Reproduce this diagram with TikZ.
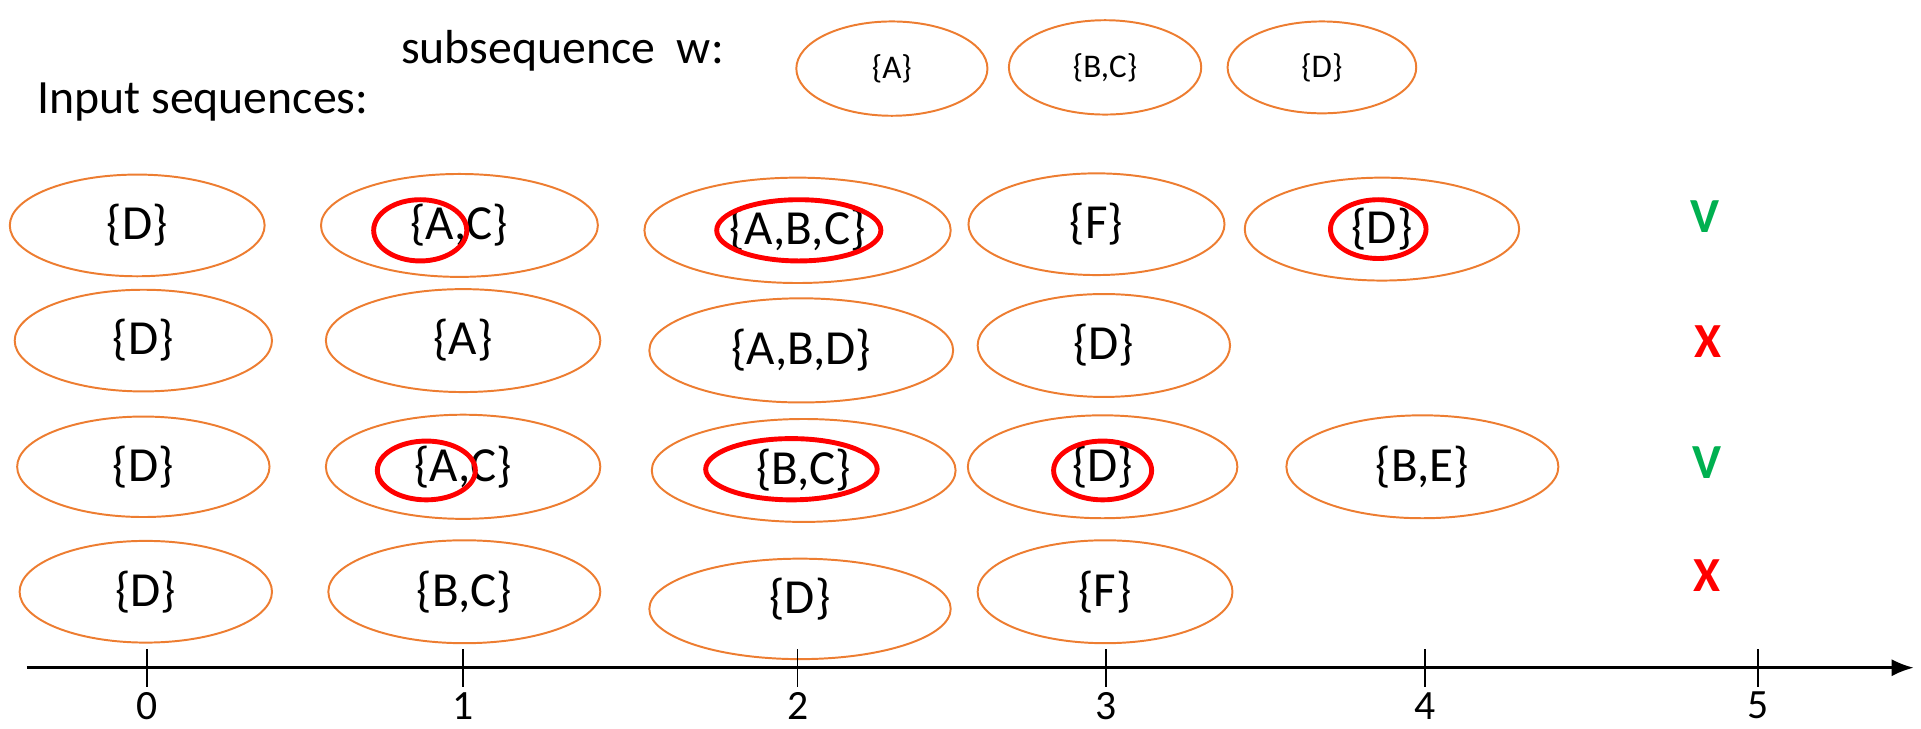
\documentclass[tikz,border=0pt]{standalone}
\usepackage{fontspec}
\setmainfont{Carlito}
\usetikzlibrary{shapes.geometric,arrows.meta}
\definecolor{seqorange}{HTML}{ED7D31}
\definecolor{ringred}{HTML}{FF0000}
\definecolor{okgreen}{HTML}{00B050}
\begin{document}
\begin{tikzpicture}[x=0.5pt,y=-0.5pt,
  seq/.style={ellipse, draw=seqorange, line width=0.8pt, inner sep=0pt, font=\fontsize{20}{24}\selectfont},
  sub/.style={seq, font=\fontsize{13.5}{16}\selectfont},
  esz/.style 2 args={minimum width=#1*0.5pt, minimum height=#2*0.5pt},
  ring/.style={ellipse, draw=ringred, line width=2pt, inner sep=0pt},
  lbl/.style={font=\fontsize{19.5}{23}\selectfont, inner sep=0pt, anchor=base west},
  txt/.style={font=\fontsize{20}{24}\selectfont, inner sep=0pt},
  num/.style={font=\fontsize{17}{20}\selectfont, inner sep=0pt},
  ok/.style={font=\fontsize{20}{24}\selectfont\bfseries, text=okgreen, inner sep=0pt},
  bad/.style={font=\fontsize{20}{24}\selectfont\bfseries, text=ringred, inner sep=0pt},
  tick/.style={line width=0.7pt}
]
\useasboundingbox (0,0) rectangle (1568,595);

% titles
\node[lbl] (subtitle) at (327,52) {subsequence\ \ w:};
\node[lbl] (intitle) at (30,93) {Input sequences:};

% subsequence w
\node[sub, esz={156}{77}] (w1) at (728,56) {\{A\}};
\node[sub, esz={157}{77}] (w2) at (902,55) {\{B,C\}};
\node[sub, esz={154}{75}] (w3) at (1079,55) {\{D\}};

% row 1
\node[seq, esz={208}{83}] (a0) at (112,184) {\{D\}};
\node[seq, esz={226}{84}] (a1) at (375,184) {\{A,C\}};
\node[seq, esz={250}{86}] (a2) at (651,188) {\{A,B,C\}};
\node[seq, esz={209}{83}] (a3) at (895,183) {\{F\}};
\node[seq, esz={224}{84}] (a4) at (1128,187) {\{D\}};
\node[ok] (ra) at (1392,177) {V};

% row 2
\node[seq, esz={210}{83}] (b0) at (117,278) {\{D\}};
\node[seq, esz={224}{84}] (b1) at (378,278) {\{A\}};
\node[seq, esz={248}{85}] (b2) at (654,286) {\{A,B,D\}};
\node[seq, esz={206}{84}] (b3) at (901,282) {\{D\}};
\node[bad] (rb) at (1394,279) {X};

% row 3
\node[seq, esz={206}{82}] (c0) at (117,381) {\{D\}};
\node[seq, esz={224}{85}] (c1) at (378,381) {\{A,C\}};
\node[seq, esz={248}{84}] (c2) at (656,384) {\{B,C\}};
\node[seq, esz={220}{84}] (c3) at (900,381) {\{D\}};
\node[seq, esz={222}{84}] (c4) at (1161,381) {\{B,E\}};
\node[ok] (rc) at (1393,378) {V};

% row 4
\node[seq, esz={206}{83}] (d0) at (119,483) {\{D\}};
\node[seq, esz={222}{84}] (d1) at (379,483) {\{B,C\}};
\node[seq, esz={246}{82}] (d2) at (653,497) {};
\node[txt] (d2t) at (653,489) {\{D\}};
\node[seq, esz={208}{84}] (d3) at (902,483) {\{F\}};
\node[bad] (rd) at (1393,470) {X};

% red rings
\node[ring, esz={76}{50}] (ra1) at (343,188) {};
\node[ring, esz={134}{50}] (ra2) at (652,188) {};
\node[ring, esz={78}{48}] (ra4) at (1125,187) {};
\node[ring, esz={80}{48}] (rc1) at (348,384) {};
\node[ring, esz={140}{50}] (rc2) at (646,383) {};
\node[ring, esz={80}{48}] (rc3) at (900,384) {};

% axis
\coordinate (axs) at (22,545);
\coordinate (axe) at (1562,545);
\draw[line width=1pt, -{Latex[length=9pt,width=7pt]}] (axs) -- (axe);
\foreach \t/\xx in {0/120,1/378,2/651,3/903,4/1163,5/1435}{
  \draw[tick] (\xx,530) -- (\xx,561);
  \node[num] (n\t) at (\xx,576) {\t};
}
\end{tikzpicture}
\end{document}
